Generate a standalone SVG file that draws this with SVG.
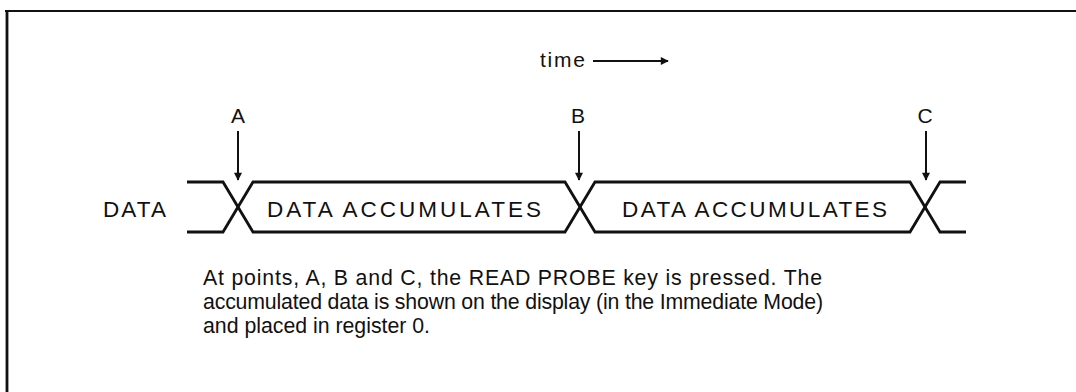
<svg xmlns="http://www.w3.org/2000/svg" width="1076" height="392" viewBox="0 0 1076 392">
<style>
text{font-family:"Liberation Sans",Arial,Helvetica,sans-serif;fill:#111}
.lbl{font-size:22.5px}
.pt{font-size:21px}
.body{font-size:21.3px}
.wave{fill:none;stroke:#111;stroke-width:2.8;stroke-linejoin:miter}
.arr{stroke:#111;stroke-width:2;fill:none}
.frame{stroke:#111;fill:none}
</style>
<defs>
<marker id="ah2" viewBox="0 0 10 10" refX="9" refY="5" markerWidth="10" markerHeight="8" orient="auto" markerUnits="userSpaceOnUse">
<path d="M0,0 L10,5 L0,10 Z" fill="#111"/>
</marker>
</defs>
<g id="frame">
<line class="frame" x1="5" y1="11" x2="1076" y2="11" stroke-width="2.2"/>
<line class="frame" x1="7" y1="10" x2="7" y2="392" stroke-width="2.8"/>
</g>
<g id="time-label">
<text class="pt" x="540" y="67" textLength="45" lengthAdjust="spacing">time</text>
</g>
<g id="data-label">
<text class="lbl" x="103" y="217" textLength="63" lengthAdjust="spacing">DATA</text>
</g>
<g id="waveform">
<path class="wave" d="M187,182 H223 L253,232 H565 L595,182 H910 L940,232 H966"/>
<path class="wave" d="M187,232 H223 L253,182 H565 L595,232 H910 L940,182 H966"/>
</g>
<g id="segment-1">
<text class="lbl" x="267" y="217" textLength="274" lengthAdjust="spacing">DATA ACCUMULATES</text>
</g>
<g id="segment-2">
<text class="lbl" x="622" y="217" textLength="265" lengthAdjust="spacing">DATA ACCUMULATES</text>
</g>
<g id="point-A">
<text class="pt" x="238" y="123" text-anchor="middle">A</text>
</g>
<g id="point-B">
<text class="pt" x="578" y="123" text-anchor="middle">B</text>
</g>
<g id="point-C">
<text class="pt" x="925" y="123" text-anchor="middle">C</text>
</g>
<g id="connectors">
<line class="arr" x1="593" y1="61" x2="668" y2="61" marker-end="url(#ah2)"/>
<line class="arr" x1="238" y1="131" x2="238" y2="180" marker-end="url(#ah2)"/>
<line class="arr" x1="579" y1="131" x2="579" y2="180" marker-end="url(#ah2)"/>
<line class="arr" x1="926" y1="131" x2="926" y2="180" marker-end="url(#ah2)"/>
</g>
<g id="caption">
<text class="body" x="203" y="285" textLength="619" lengthAdjust="spacing">At points, A, B and C, the READ PROBE key is pressed. The</text>
<text class="body" x="203" y="309" textLength="620" lengthAdjust="spacing">accumulated data is shown on the display (in the Immediate Mode)</text>
<text class="body" x="203" y="333" textLength="227" lengthAdjust="spacing">and placed in register 0.</text>
</g>
</svg>
